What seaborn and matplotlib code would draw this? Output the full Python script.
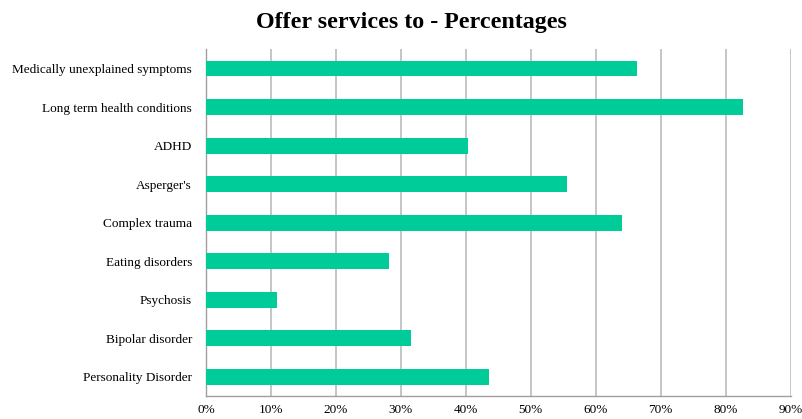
import matplotlib
matplotlib.use("Agg")
import matplotlib.pyplot as plt
import seaborn as sns
import pandas as pd
import numpy as np
from matplotlib.ticker import FixedLocator, PercentFormatter

categories = ["Medically unexplained symptoms", "Long term health conditions", "ADHD",
              "Asperger's", "Complex trauma", "Eating disorders", "Psychosis",
              "Bipolar disorder", "Personality Disorder"]
values = [66.4, 82.7, 40.3, 55.5, 64.1, 28.2, 10.9, 31.5, 43.6]
xticks = [0, 10, 20, 30, 40, 50, 60, 70, 80, 90]

df = pd.DataFrame({"category": categories, "value": values})

sns.set_theme(style="white")
plt.rcParams['font.family'] = ['Liberation Serif', 'DejaVu Serif']
plt.rcParams['text.color'] = 'black'
plt.rcParams['xtick.labelcolor'] = 'black'
plt.rcParams['ytick.labelcolor'] = 'black'

fig = plt.figure(figsize=(8.03, 4.19), dpi=100)
ax = fig.add_axes([0.2565, 0.0549, 0.7282, 0.8274])

sns.barplot(data=df, y="category", x="value", orient="h", color="#00CC99",
            saturation=1, width=0.41, linewidth=0, ax=ax, zorder=3)

ax.set_xlim(0, 90)
ax.set_ylim(len(categories) - 0.5, -0.5)
ax.set_xticks(xticks)
ax.xaxis.set_major_formatter(PercentFormatter(decimals=0))
ax.grid(axis="x", color="#BBBBBB", linewidth=1.2, zorder=0)
ax.set_axisbelow(True)
ax.set_xlabel("")
ax.set_ylabel("")

for s in ["top", "right"]:
    ax.spines[s].set_visible(False)
for s in ["left", "bottom"]:
    ax.spines[s].set_color("#A0A0A0")
    ax.spines[s].set_linewidth(1.0)

ax.tick_params(axis="y", which="major", length=0, labelsize=9.5, pad=10, labelcolor="black")
ax.yaxis.set_minor_locator(FixedLocator(np.arange(-0.5, len(categories), 1.0)))
ax.tick_params(axis="y", which="minor", length=4, color="#A0A0A0", width=1, direction="out")
ax.tick_params(axis="x", which="major", length=4, color="#A0A0A0", labelsize=9.5, pad=2,
               labelcolor="black")

fig.suptitle("Offer services to - Percentages", fontsize=17.3, fontweight="bold",
             x=0.512, y=0.972, color="black")

fig.savefig("out.png", dpi=100)
